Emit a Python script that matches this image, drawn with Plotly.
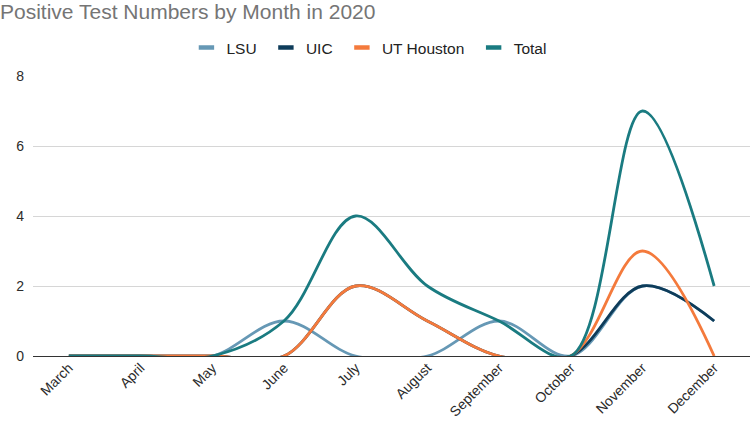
import plotly.graph_objects as go

months = ["March", "April", "May", "June", "July", "August",
          "September", "October", "November", "December"]
lsu = [0, 0, 0, 1, 0, 0, 1, 0, 2, 1]
uic = [0, 0, 0, 0, 2, 1, 0, 0, 2, 1]
ut_houston = [0, 0, 0, 0, 2, 1, 0, 0, 3, 0]
total = [0, 0, 0, 1, 4, 2, 1, 0, 7, 2]

series = [("LSU", lsu, "#6698b5"),
          ("UIC", uic, "#0e3c5a"),
          ("UT Houston", ut_houston, "#f47a3c"),
          ("Total", total, "#1a7b81")]

FONT = "Liberation Sans, Arial, sans-serif"
NBSP = "\u00a0"

fig = go.Figure()
for name, vals, col in series:
    fig.add_trace(go.Scatter(
        x=months, y=vals, name=name, mode="lines",
        line=dict(color=col, width=2.8, shape="spline", smoothing=1),
        showlegend=False, hoverinfo="skip"))
for i, (name, vals, col) in enumerate(series):
    label = name + (NBSP if i < len(series) - 1 else "")
    fig.add_trace(go.Scatter(
        x=[None], y=[None], name=label, mode="markers",
        marker=dict(symbol="line-ew", size=11, color=col,
                    line=dict(color=col, width=4.5)),
        showlegend=True))

fig.update_layout(
    width=752, height=431,
    margin=dict(l=33, r=2, t=76, b=75, autoexpand=False),
    paper_bgcolor="white", plot_bgcolor="white",
    font=dict(family=FONT, color="#444444", size=14),
    title=dict(text="Positive Test Numbers by Month in 2020",
               xref="container", x=0.0, xanchor="left",
               yref="container", y=1 - 11.5 / 431, yanchor="middle",
               font=dict(family=FONT, size=21, color="#757575")),
    legend=dict(orientation="h", x=0.214, xanchor="left",
                y=1 + 28 / 280, yanchor="middle",
                font=dict(family=FONT, size=15.5, color="#222222"),
                bgcolor="rgba(0,0,0,0)"),
    xaxis=dict(type="category", range=[-0.5, 9.5], showgrid=False,
               tickangle=-45, ticks="", showline=False, zeroline=False,
               tickfont=dict(family=FONT, size=14, color="#2b2b2b")),
    yaxis=dict(range=[0, 8], tickvals=[0, 2, 4, 6, 8], showgrid=True,
               gridcolor="#d6d6d6", gridwidth=1,
               zeroline=True, zerolinecolor="#333333", zerolinewidth=1.3,
               ticks="", ticklabelstandoff=8, showline=False,
               tickfont=dict(family=FONT, size=14, color="#2b2b2b")),
)

fig.write_html("out.html",
               config={"displayModeBar": False},
               post_script="document.body.style.margin='0';"
                           "document.body.style.overflow='hidden';")
